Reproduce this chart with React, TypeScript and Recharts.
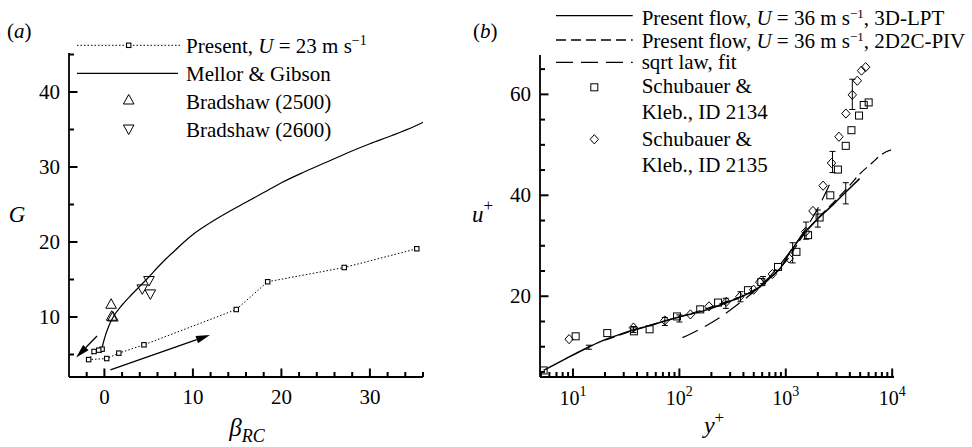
import React from "react";
import {
  ComposedChart,
  Line,
  Scatter,
  XAxis,
  YAxis,
  ReferenceLine,
  ErrorBar,
  Legend,
} from "recharts";

const FONT = '"Liberation Serif", "Times New Roman", serif';
const INK = "#000";

// ---------- (a) Clauser parameter G against beta_RC ----------
const presentBeta = [-0.26, -0.64, -1.17, -1.78, 0.26, 1.63, 4.47, 14.9, 18.45, 27.1, 35.3];
const presentG = [5.71, 5.58, 5.4, 4.32, 4.46, 5.18, 6.29, 11.0, 14.7, 16.6, 19.1];

const mellorBeta = [-0.4, 0, 0.5, 1, 2, 3, 4, 5, 6, 7, 8, 9, 10, 12, 14, 16, 18, 20, 22.5, 25, 27.5, 30, 32.5, 35, 36.1];
const mellorG = [5.2, 7.1, 8.8, 10.0, 11.6, 12.9, 14.1, 15.3, 16.6, 17.8, 18.9, 20.0, 21.0, 22.6, 24.0, 25.3, 26.6, 27.9, 29.3, 30.6, 31.9, 33.1, 34.2, 35.4, 36.0];

const brad2500Beta = [0.76, 0.82, 0.95];
const brad2500G = [11.7, 10.1, 10.0];
const brad2600Beta = [4.28, 5.04, 5.19];
const brad2600G = [13.75, 14.86, 13.08];

// arrows showing the direction of travel, [tail, head]
const arrowBack = [{ x: -0.83, y: 7.46 }, { x: -3.2, y: 4.59 }];
const arrowOut = [{ x: 0.68, y: 2.95 }, { x: 11.93, y: 7.59 }];

const betaDomain = [-4, 36];
const gDomain = [2, 45.2];
const betaTicks = [-2, 0, 2, 4, 6, 8, 10, 12, 14, 16, 18, 20, 22, 24, 26, 28, 30, 32, 34, 36];
const betaLabels = [0, 10, 20, 30];
const gTicks = [5, 10, 15, 20, 25, 30, 35, 40, 45];
const gLabels = [10, 20, 30, 40];

// ---------- (b) mean velocity profile u+ against y+ ----------
const lptYPlus = [5.3, 8, 14.1, 20, 28, 37, 55, 73, 100, 180, 276, 400, 569, 750, 877, 1100, 1560, 2080, 2800, 3570, 4940];
const lptU = [5.3, 7.3, 9.95, 11.4, 12.5, 13.3, 14.3, 15.1, 15.9, 17.3, 18.7, 20.1, 21.8, 24.1, 25.4, 28.8, 33.0, 35.7, 38.2, 40.4, 43.3];

const pivYPlus = [20, 50, 100, 250, 500, 800, 1000, 1500, 2000, 3000, 4000, 4940, 6370, 8070, 10400];
const pivU = [11.3, 14.1, 15.9, 18.6, 21.2, 24.6, 26.9, 32.4, 35.4, 39.2, 42.0, 44.2, 46.3, 48.2, 49.2];

const sqrtYPlus = [107, 150, 240, 360, 500, 700, 1000, 1500, 2000, 2600];
const sqrtU = [11.8, 13.3, 15.8, 18.5, 20.9, 23.8, 27.7, 33.0, 37.4, 42.3];

const sk2134YPlus = [5.3, 10.6, 21.0, 37.4, 52.5, 95, 157, 231, 441, 589, 845, 1260, 1620, 2080, 2620, 3090, 3660, 4140, 4880, 5400, 6010];
const sk2134U = [5.3, 12.06, 12.7, 13.05, 13.45, 16.0, 17.4, 18.75, 21.2, 22.8, 25.8, 28.8, 32.1, 35.6, 40.0, 45.1, 49.8, 52.9, 55.8, 57.9, 58.4];

const sk2135YPlus = [9.2, 37, 73, 127, 190, 276, 369, 499, 569, 748, 1075, 1540, 1800, 2240, 2690, 3160, 3670, 4220, 4700, 5150, 5630];
const sk2135U = [11.5, 13.8, 15.2, 16.4, 18.0, 18.9, 19.9, 21.3, 22.8, 24.4, 27.5, 32.8, 36.9, 41.9, 46.4, 51.6, 56.2, 59.9, 62.7, 64.7, 65.4];

const errYPlus = [14.1, 37, 73, 100, 273, 375, 612, 1160, 1550, 2000, 2750, 3660, 4220];
const errU = [9.9, 13.4, 15.0, 15.6, 18.6, 19.9, 23.2, 28.6, 33.0, 35.4, 46.6, 40.4, 60.0];
const errHalf = [0.4, 0.6, 0.8, 0.7, 1.0, 1.0, 0.7, 2.0, 1.7, 1.7, 2.1, 2.1, 3.0];

const yPlusDomain = [4.9, 10400];
const uDomain = [4, 67.8];
const yPlusTicks = [
  5, 6, 7, 8, 9, 10, 20, 30, 40, 50, 60, 70, 80, 90, 100, 200, 300, 400, 500, 600, 700, 800, 900,
  1000, 2000, 3000, 4000, 5000, 6000, 7000, 8000, 9000, 10000,
];
const yPlusLabels = [10, 100, 1000, 10000];
const uTicks = [5, 10, 15, 20, 25, 30, 35, 40, 45, 50, 55, 60, 65];
const uLabels = [20, 40, 60];

const zip = (xs: number[], ys: number[]) => xs.map((x, i) => ({ x, y: ys[i] }));

const presentData = zip(presentBeta, presentG);
const mellorData = zip(mellorBeta, mellorG);
const brad2500Data = zip(brad2500Beta, brad2500G);
const brad2600Data = zip(brad2600Beta, brad2600G);
const lptData = zip(lptYPlus, lptU);
const pivData = zip(pivYPlus, pivU);
const sqrtData = zip(sqrtYPlus, sqrtU);
const sk2134Data = zip(sk2134YPlus, sk2134U);
const sk2135Data = zip(sk2135YPlus, sk2135U);
const errData = errYPlus.map((x, i) => ({ x, y: errU[i], err: errHalf[i] }));

// ---------- marks ----------
const TriUp = ({ cx, cy }: any) => (
  <polygon points={`${cx},${cy - 5.5} ${cx - 5.3},${cy + 4} ${cx + 5.3},${cy + 4}`} fill="none" stroke={INK} strokeWidth={1} />
);
const TriDown = ({ cx, cy }: any) => (
  <polygon points={`${cx - 5.3},${cy - 4} ${cx + 5.3},${cy - 4} ${cx},${cy + 5.5}`} fill="none" stroke={INK} strokeWidth={1} />
);
const SmallSquare = ({ cx, cy }: any) => (
  <rect x={cx - 2.2} y={cy - 2.2} width={4.4} height={4.4} fill="#fff" stroke={INK} strokeWidth={1.1} />
);
const OpenSquare = ({ cx, cy }: any) => (
  <rect x={cx - 3.5} y={cy - 3.5} width={7} height={7} fill="none" stroke={INK} strokeWidth={1} />
);
const OpenDiamond = ({ cx, cy }: any) => (
  <polygon points={`${cx},${cy - 4.6} ${cx + 4.2},${cy} ${cx},${cy + 4.6} ${cx - 4.2},${cy}`} fill="none" stroke={INK} strokeWidth={1} />
);
const NoMark = () => <g />;

function Arrow(props: any) {
  const { x1, y1, x2, y2 } = props;
  const a = Math.atan2(y2 - y1, x2 - x1);
  const len = 14;
  const half = 3.8;
  const bx = x2 - len * Math.cos(a);
  const by = y2 - len * Math.sin(a);
  const nx = -Math.sin(a) * half;
  const ny = Math.cos(a) * half;
  return (
    <g>
      <line x1={x1} y1={y1} x2={bx} y2={by} stroke={INK} strokeWidth={1.3} />
      <polygon points={`${x2},${y2} ${bx + nx},${by + ny} ${bx - nx},${by - ny}`} fill={INK} />
    </g>
  );
}

// inward tick marks, drawn as reference segments sitting on the axes
const MINOR = 5;
const MAJOR = 8.5;
const upTick = (len: number) => (p: any) => (
  <path d={`M${p.x1},${p.y1}L${p.x1},${p.y1 - len}`} stroke={INK} strokeWidth={2} fill="none" />
);
const rightTick = (len: number) => (p: any) => (
  <path d={`M${p.x1},${p.y1}L${p.x1 + len},${p.y1}`} stroke={INK} strokeWidth={2} fill="none" />
);

function bottomTicks(ticks: number[], labels: number[], yMin: number) {
  return ticks.map((v) => (
    <ReferenceLine
      key={`bt-${v}`}
      segment={[{ x: v, y: yMin }, { x: v, y: yMin }]}
      shape={upTick(labels.includes(v) ? MAJOR : MINOR)}
      ifOverflow="visible"
    />
  ));
}
function leftTicks(ticks: number[], labels: number[], xMin: number) {
  return ticks.map((v) => (
    <ReferenceLine
      key={`lt-${v}`}
      segment={[{ x: xMin, y: v }, { x: xMin, y: v }]}
      shape={rightTick(labels.includes(v) ? MAJOR : MINOR)}
      ifOverflow="visible"
    />
  ));
}

// ---------- tick labels (majors only) ----------
function BottomLabel({ x, y, payload, labels }: any) {
  const v = payload.value;
  if (!labels.includes(v)) return <g />;
  return (
    <text x={x} y={y + 27} textAnchor="middle" fontSize={21} fontFamily={FONT} fill={INK}>
      {v}
    </text>
  );
}

function LogLabel({ x, y, payload }: any) {
  const v = payload.value;
  if (!yPlusLabels.includes(v)) return <g />;
  return (
    <text x={x} y={y + 28} textAnchor="middle" fontSize={20} fontFamily={FONT} fill={INK}>
      10
      <tspan dy={-9} fontSize={14}>
        {Math.round(Math.log10(v))}
      </tspan>
    </text>
  );
}

function LeftLabel({ x, y, payload, labels }: any) {
  const v = payload.value;
  if (!labels.includes(v)) return <g />;
  return (
    <text x={x - 9} y={y + 7} textAnchor="end" fontSize={21} fontFamily={FONT} fill={INK}>
      {v}
    </text>
  );
}

// ---------- axis titles ----------
const BetaTitle = ({ viewBox }: any) => (
  <text x={viewBox.x + viewBox.width / 2 + 1} y={436} textAnchor="middle" fontSize={25} fontFamily={FONT} fontStyle="italic" fill={INK}>
    β
    <tspan dy={6} fontSize={18}>
      RC
    </tspan>
  </text>
);
const GTitle = ({ viewBox }: any) => (
  <text x={viewBox.x - 51} y={222} textAnchor="middle" fontSize={23} fontFamily={FONT} fontStyle="italic" fill={INK}>
    G
  </text>
);
const YPlusTitle = ({ viewBox }: any) => (
  <text x={viewBox.x + viewBox.width / 2 - 3} y={433} textAnchor="middle" fontSize={24} fontFamily={FONT} fontStyle="italic" fill={INK}>
    y
    <tspan dy={-10} fontSize={17} fontStyle="normal">
      +
    </tspan>
  </text>
);
const UPlusTitle = ({ viewBox }: any) => (
  <text x={viewBox.x - 67} y={222} fontSize={23} fontFamily={FONT} fontStyle="italic" fill={INK}>
    u
    <tspan dy={-11} fontSize={17} fontStyle="normal">
      +
    </tspan>
  </text>
);

// ---------- legends ----------
function LegendA() {
  return (
    <svg width={460} height={150} style={{ display: "block", fontFamily: FONT }} fontSize={21} fill={INK}>
      <text x={7} y={38}>
        (<tspan fontStyle="italic">a</tspan>)
      </text>
      <line x1={77} x2={180} y1={45.3} y2={45.3} stroke={INK} strokeDasharray="1.5 2" />
      <SmallSquare cx={128.7} cy={45.3} />
      <text x={186} y={53}>
        Present, <tspan fontStyle="italic">U</tspan> = 23 m s
        <tspan dy={-8} fontSize={14}>
          −1
        </tspan>
      </text>
      <line x1={77} x2={178} y1={73.3} y2={73.3} stroke={INK} strokeWidth={1.2} />
      <text x={186} y={81}>Mellor &amp; Gibson</text>
      <TriUp cx={128.7} cy={100} />
      <text x={186} y={109}>Bradshaw (2500)</text>
      <TriDown cx={128.7} cy={129} />
      <text x={186} y={137}>Bradshaw (2600)</text>
    </svg>
  );
}

function FlowLabel({ y, method }: { y: number; method: string }) {
  return (
    <text x={181.7} y={y}>
      Present flow, <tspan fontStyle="italic">U</tspan> = 36 m s
      <tspan dy={-7} fontSize={13}>
        −1
      </tspan>
      <tspan dy={7}>, {method}</tspan>
    </text>
  );
}

function LegendB() {
  return (
    <svg width={512} height={180} style={{ display: "block", fontFamily: FONT }} fontSize={21} fill={INK}>
      <text x={13} y={38}>
        (<tspan fontStyle="italic">b</tspan>)
      </text>
      <line x1={96} x2={172.7} y1={15.7} y2={15.7} stroke={INK} strokeWidth={1.3} />
      <FlowLabel y={25} method="3D-LPT" />
      <line x1={96} x2={172.7} y1={40} y2={40} stroke={INK} strokeWidth={1.3} strokeDasharray="10 5" />
      <FlowLabel y={48} method="2D2C-PIV" />
      <line x1={96} x2={172.7} y1={62.3} y2={62.3} stroke={INK} strokeWidth={1.3} strokeDasharray="17 8" />
      <text x={181.7} y={69}>sqrt law, fit</text>
      <OpenSquare cx={134.3} cy={87.3} />
      <text x={181.7} y={93}>Schubauer &amp;</text>
      <text x={181.7} y={119}>Kleb., ID 2134</text>
      <OpenDiamond cx={134.3} cy={139.3} />
      <text x={181.7} y={145.5}>Schubauer &amp;</text>
      <text x={181.7} y={171.5}>Kleb., ID 2135</text>
    </svg>
  );
}

const axisLine = { stroke: INK, strokeWidth: 1.8 };

function PanelA() {
  return (
    <ComposedChart width={460} height={447} margin={{ top: 53, right: 37, bottom: 69, left: 68 }}>
      <XAxis
        type="number"
        dataKey="x"
        domain={betaDomain}
        allowDataOverflow
        ticks={betaTicks}
        interval={0}
        height={1}
        tickSize={0}
        tickMargin={0}
        tickLine={false}
        axisLine={axisLine}
        tick={(p: any) => <BottomLabel {...p} labels={betaLabels} />}
        label={{ content: BetaTitle }}
      />
      <YAxis
        type="number"
        domain={gDomain}
        allowDataOverflow
        ticks={gTicks}
        interval={0}
        width={1}
        tickSize={0}
        tickMargin={0}
        tickLine={false}
        axisLine={axisLine}
        tick={(p: any) => <LeftLabel {...p} labels={gLabels} />}
        label={{ content: GTitle }}
      />
      <Legend layout="vertical" align="center" verticalAlign="middle" wrapperStyle={{ left: 0, top: 0, width: 460, height: 150 }} content={() => <LegendA />} />
      {bottomTicks(betaTicks, betaLabels, gDomain[0])}
      {leftTicks(gTicks, gLabels, betaDomain[0])}
      <Line data={mellorData} dataKey="y" type="monotone" stroke={INK} strokeWidth={1.2} dot={false} isAnimationActive={false} />
      <Line
        data={presentData}
        dataKey="y"
        type="linear"
        stroke={INK}
        strokeWidth={1}
        strokeDasharray="1.5 2"
        dot={(p: any) => <SmallSquare key={p.index} cx={p.cx} cy={p.cy} />}
        isAnimationActive={false}
      />
      <Scatter data={brad2500Data} dataKey="y" shape={TriUp} isAnimationActive={false} />
      <Scatter data={brad2600Data} dataKey="y" shape={TriDown} isAnimationActive={false} />
      <ReferenceLine segment={arrowBack} shape={Arrow} ifOverflow="visible" />
      <ReferenceLine segment={arrowOut} shape={Arrow} ifOverflow="visible" />
    </ComposedChart>
  );
}

function PanelB() {
  return (
    <ComposedChart width={512} height={447} margin={{ top: 55, right: 78, bottom: 69, left: 79 }}>
      <XAxis
        type="number"
        dataKey="x"
        scale="log"
        domain={yPlusDomain}
        allowDataOverflow
        ticks={yPlusTicks}
        interval={0}
        height={1}
        tickSize={0}
        tickMargin={0}
        tickLine={false}
        axisLine={axisLine}
        tick={(p: any) => <LogLabel {...p} />}
        label={{ content: YPlusTitle }}
      />
      <YAxis
        type="number"
        domain={uDomain}
        allowDataOverflow
        ticks={uTicks}
        interval={0}
        width={1}
        tickSize={0}
        tickMargin={0}
        tickLine={false}
        axisLine={axisLine}
        tick={(p: any) => <LeftLabel {...p} labels={uLabels} />}
        label={{ content: UPlusTitle }}
      />
      <Legend layout="vertical" align="center" verticalAlign="middle" wrapperStyle={{ left: 0, top: 0, width: 512, height: 180 }} content={() => <LegendB />} />
      {bottomTicks(yPlusTicks, yPlusLabels, uDomain[0])}
      {leftTicks(uTicks, uLabels, yPlusDomain[0])}
      <Line data={sqrtData} dataKey="y" type="monotone" stroke={INK} strokeWidth={1.2} strokeDasharray="17 8" dot={false} isAnimationActive={false} />
      <Line data={pivData} dataKey="y" type="monotone" stroke={INK} strokeWidth={1.2} strokeDasharray="10 5" dot={false} isAnimationActive={false} />
      <Line data={lptData} dataKey="y" type="monotone" stroke={INK} strokeWidth={1.5} dot={false} isAnimationActive={false} />
      <Scatter data={sk2134Data} dataKey="y" shape={OpenSquare} isAnimationActive={false} />
      <Scatter data={sk2135Data} dataKey="y" shape={OpenDiamond} isAnimationActive={false} />
      <Scatter data={errData} dataKey="y" shape={NoMark} isAnimationActive={false}>
        <ErrorBar dataKey="err" direction="y" width={3} stroke={INK} strokeWidth={1} />
      </Scatter>
    </ComposedChart>
  );
}

export default function App() {
  return (
    <div style={{ position: "absolute", left: 0, top: 0, width: 972, height: 447, background: "#fff", fontFamily: FONT }}>
      <div style={{ position: "absolute", left: 0, top: 0 }}>
        <PanelA />
      </div>
      <div style={{ position: "absolute", left: 460, top: 0 }}>
        <PanelB />
      </div>
    </div>
  );
}
